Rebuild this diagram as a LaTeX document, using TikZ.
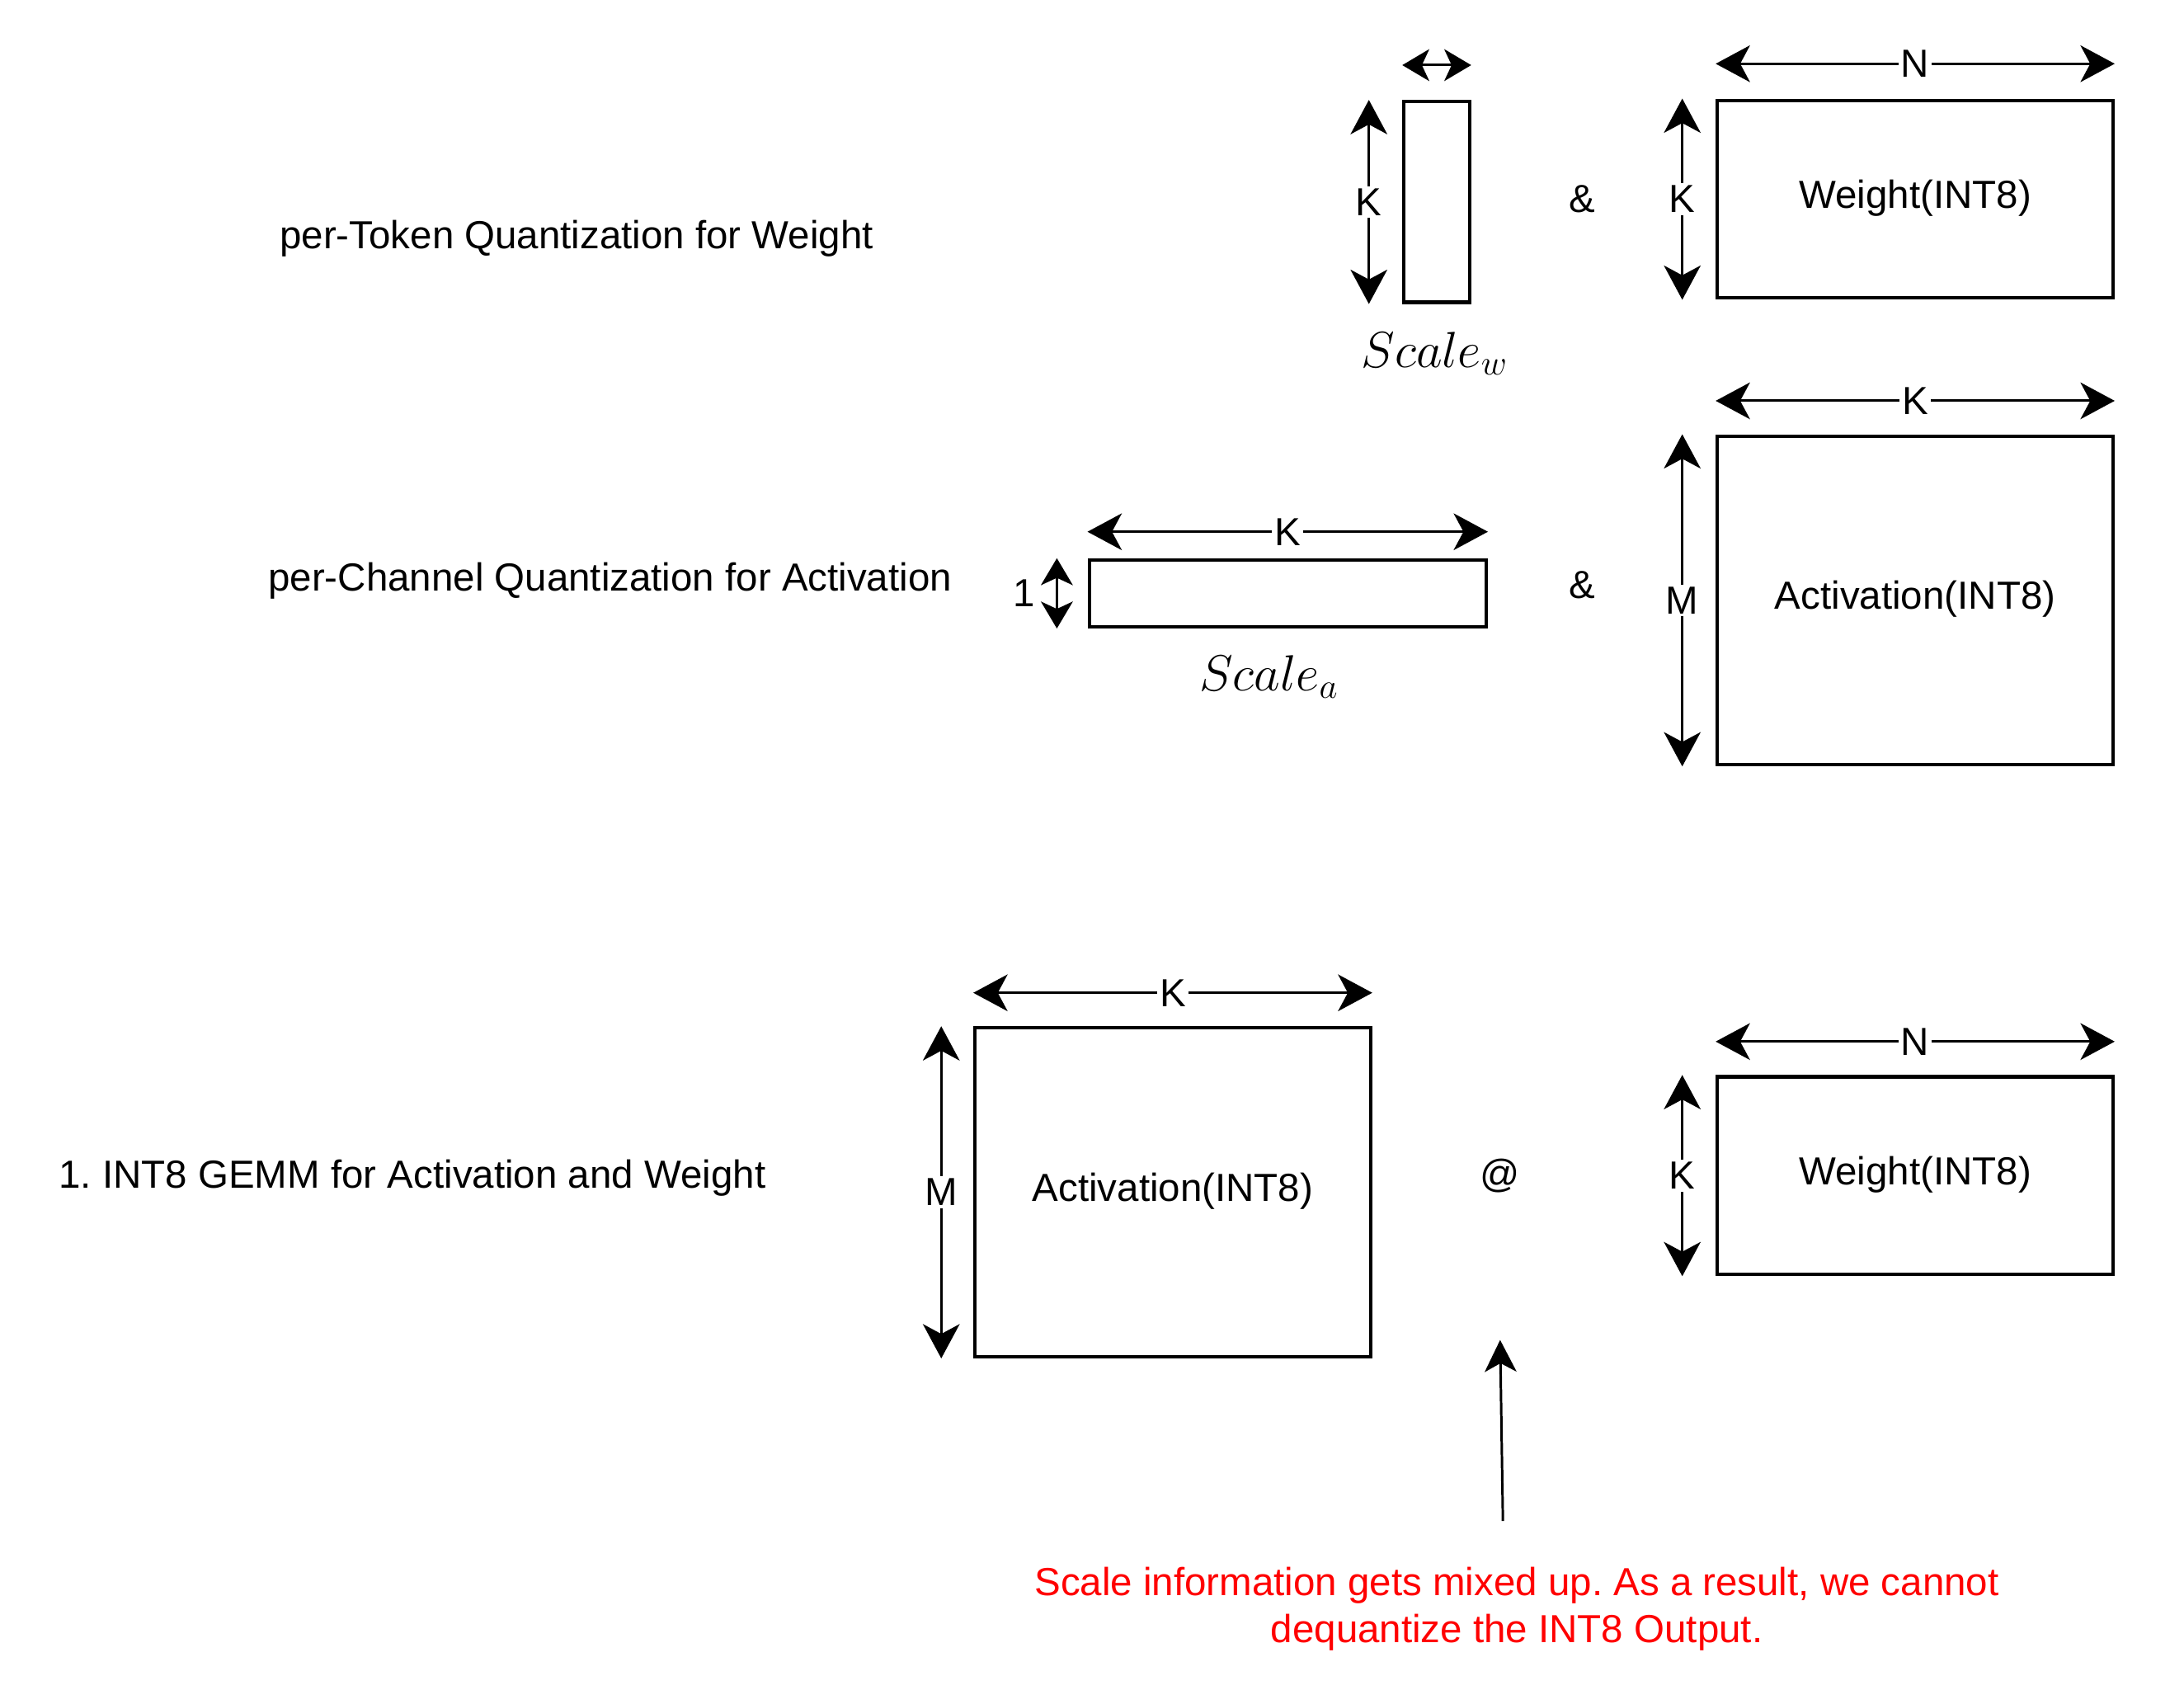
\documentclass[tikz,border=0pt]{standalone}
\usepackage{fontspec}
\setmainfont{Liberation Sans}
\usetikzlibrary{arrows.meta}
\frenchspacing

\begin{document}
\begin{tikzpicture}[
  mat/.style={draw, line width=1.4pt, inner sep=0pt, text height=0.93em, text depth=0.21em, font=\fontsize{16}{19}\selectfont},
  dim/.style={line width=1pt, {Stealth[length=14pt,width=15pt,inset=4pt]}-{Stealth[length=14pt,width=15pt,inset=4pt]}},
  dimsmall/.style={line width=1pt, {Stealth[length=11pt,width=13pt,inset=3pt]}-{Stealth[length=11pt,width=13pt,inset=3pt]}},
  dimlbl/.style={fill=white, inner sep=1pt, font=\fontsize{16}{19}\selectfont},
  txt/.style={font=\fontsize{16}{19}\selectfont},
  scl/.style={font=\fontsize{20}{24}\selectfont}
]
  \useasboundingbox (0,0) rectangle (31.36,-24.26);

  % per-Token (weight)
  \node[txt] (tok) at (8.28,-3.42) {per-Token Quantization for Weight};
  \node[mat, minimum width=0.94cm, minimum height=2.88cm] (sw) at (20.63,-2.90) {};
  \node[mat, minimum width=5.68cm, minimum height=2.84cm] (w1) at (27.50,-2.86) {Weight(INT8)};
  \node[txt] (amp1) at (22.72,-2.86) {\&};
  \node[scl] (swl) at (20.60,-5.08) {$Scale_w$};
  \draw[dimsmall] ([yshift=0.5cm]sw.north west) -- ([yshift=0.5cm]sw.north east);
  \draw[dim] ([xshift=-0.48cm]sw.north west) -- node[dimlbl]{K} ([xshift=-0.48cm]sw.south west);
  \draw[dim] ([yshift=0.5cm]w1.north west) -- node[dimlbl]{N} ([yshift=0.5cm]w1.north east);
  \draw[dim] ([xshift=-0.48cm]w1.north west) -- node[dimlbl]{K} ([xshift=-0.48cm]w1.south west);

  % per-Channel (activation)
  \node[txt] (chn) at (8.76,-8.34) {per-Channel Quantization for Activation};
  \node[mat, minimum width=5.70cm, minimum height=0.96cm] (sa) at (18.49,-8.52) {};
  \node[mat, minimum width=5.68cm, minimum height=4.72cm] (a1) at (27.50,-8.62) {Activation(INT8)};
  \node[txt] (amp2) at (22.72,-8.40) {\&};
  \node[scl] (sal) at (18.22,-9.72) {$Scale_a$};
  \draw[dim] ([yshift=0.38cm]sa.north west) -- node[dimlbl]{K} ([yshift=0.38cm]sa.north east);
  \draw[dimsmall] ([xshift=-0.44cm]sa.north west) -- node[txt, left=5pt]{1} ([xshift=-0.44cm]sa.south west);
  \draw[dim] ([yshift=0.48cm]a1.north west) -- node[dimlbl]{K} ([yshift=0.48cm]a1.north east);
  \draw[dim] ([xshift=-0.48cm]a1.north west) -- node[dimlbl]{M} ([xshift=-0.48cm]a1.south west);

  % INT8 GEMM
  \node[txt] (gemm) at (5.92,-16.92) {1. INT8 GEMM for Activation and Weight};
  \node[mat, minimum width=5.68cm, minimum height=4.72cm] (a2) at (16.84,-17.12) {Activation(INT8)};
  \node[mat, minimum width=5.68cm, minimum height=2.84cm] (w2) at (27.50,-16.88) {Weight(INT8)};
  \node[txt] (at) at (21.54,-16.88) {@};
  \draw[dim] ([yshift=0.48cm]a2.north west) -- node[dimlbl]{K} ([yshift=0.48cm]a2.north east);
  \draw[dim] ([xshift=-0.46cm]a2.north west) -- node[dimlbl]{M} ([xshift=-0.46cm]a2.south west);
  \draw[dim] ([yshift=0.48cm]w2.north west) -- node[dimlbl]{N} ([yshift=0.48cm]w2.north east);
  \draw[dim] ([xshift=-0.48cm]w2.north west) -- node[dimlbl]{K} ([xshift=-0.48cm]w2.south west);

  % note
  \node[txt, text=red, align=center] (note) at (21.78,-23.10)
    {Scale information gets mixed up. As a result, we cannot\\dequantize the INT8 Output.};
  \coordinate (tail) at (21.58,-21.84);
  \coordinate (tip) at (21.54,-19.24);
  \draw[line width=1pt, -{Stealth[length=13pt,width=13pt,inset=3.5pt]}] (tail) -- (tip);
\end{tikzpicture}
\end{document}
